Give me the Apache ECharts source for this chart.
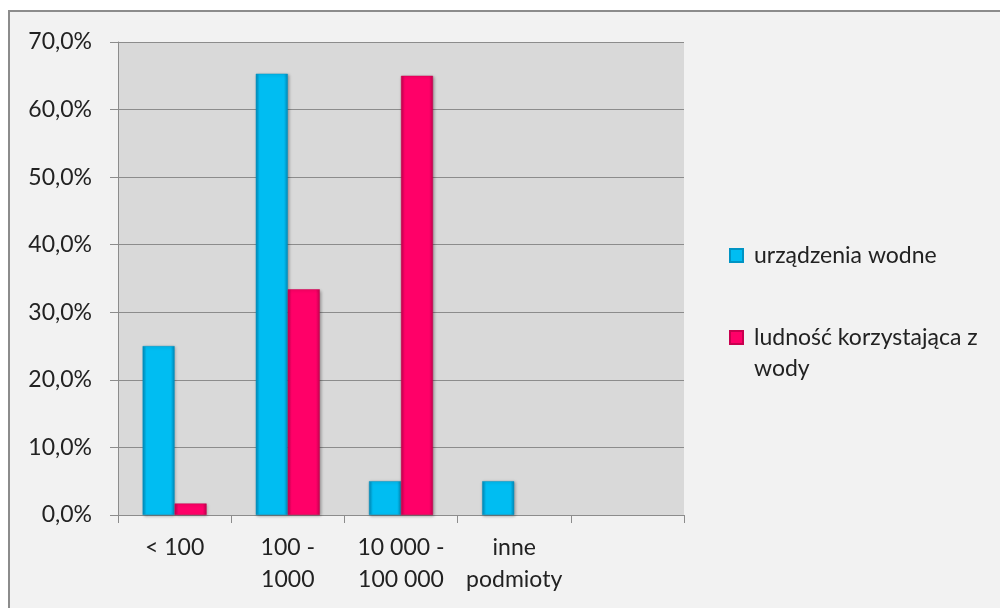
<!DOCTYPE html>
<html>
<head>
<meta charset="utf-8">
<script src="https://cdn.jsdelivr.net/npm/echarts@6/dist/echarts.min.js"></script>
<style>
  html, body { margin: 0; padding: 0; background: #fff; overflow: hidden; }
  #frame { position: absolute; left: 8px; top: 10px; width: 1000px; height: 610px;
           border-top: 2px solid #8c8c8c; border-left: 2px solid #8c8c8c; background: #f2f2f2; }
  #main { position: absolute; left: -10px; top: -12px; width: 1000px; height: 608px; }
</style>
</head>
<body>
<div id="frame"><div id="main"></div></div>
<script>
// dane
const categories = ['< 100', '100 -\n1000', '10 000 -\n100 000', 'inne\npodmioty', '']
const urzadzenia = [25.0, 65.3, 5.0, 5.0, null]
const ludnosc = [1.7, 33.4, 65.0, null, null]
const seriesNames = ['urządzenia wodne', 'ludność korzystająca z wody']

const chart = echarts.init(document.getElementById('main'))

function barColor(mid, edge) {
  return new echarts.graphic.LinearGradient(0, 0, 1, 0, [
    { offset: 0, color: edge },
    { offset: 0.12, color: mid },
    { offset: 0.88, color: mid },
    { offset: 1, color: edge }
  ])
}

const font = 'Lato'
const fsize = 23

let option = {
  backgroundColor: 'transparent',
  animation: false,
  grid: { left: 118, top: 42, width: 566, height: 473, show: true,
          backgroundColor: '#d9d9d9', borderWidth: 0 },
  legend: {
    orient: 'vertical',
    left: 724,
    top: 235,
    itemGap: 20,
    itemWidth: 13,
    itemHeight: 13,
    icon: 'rect',
    textStyle: { fontFamily: font, fontSize: fsize, color: '#222', lineHeight: 31,
                 padding: [0, 0, 0, 6] },
    // pusta linia na górze, żeby ikonka stała przy pierwszej linii tekstu
    formatter: name => name === seriesNames[1] ? '\nludność korzystająca z\nwody' : name
  },
  xAxis: {
    type: 'category',
    data: categories,
    axisLine: { lineStyle: { color: '#8c8c8c', width: 1 } },
    axisTick: { show: true, length: 8, lineStyle: { color: '#8c8c8c' } },
    axisLabel: { fontFamily: font, fontSize: fsize, color: '#222', lineHeight: 32, margin: 17,
                 interval: 0 }
  },
  yAxis: {
    type: 'value',
    min: 0,
    max: 70,
    interval: 10,
    axisLine: { show: true, lineStyle: { color: '#8c8c8c' } },
    axisTick: { show: true, length: 8, lineStyle: { color: '#8c8c8c' } },
    splitLine: { lineStyle: { color: '#8c8c8c', width: 1 } },
    axisLabel: { fontFamily: font, fontSize: fsize, color: '#222', margin: 26,
                 formatter: v => v.toFixed(1).replace('.', ',') + '%' }
  },
  series: [
    {
      name: seriesNames[0],
      type: 'bar',
      data: urzadzenia,
      barWidth: 32,
      barGap: '0%',
      itemStyle: { color: barColor('#00bdf2', '#0089b8'), borderColor: '#0094c4', borderWidth: 0.5,
                   shadowColor: 'rgba(0,0,0,0.3)', shadowBlur: 3, shadowOffsetX: 1, shadowOffsetY: 1 }
    },
    {
      name: seriesNames[1],
      type: 'bar',
      data: ludnosc,
      barWidth: 32,
      barGap: '0%',
      itemStyle: { color: barColor('#ff0068', '#c4004f'), borderColor: '#c8004f', borderWidth: 0.5,
                   shadowColor: 'rgba(0,0,0,0.3)', shadowBlur: 3, shadowOffsetX: 1, shadowOffsetY: 1 }
    }
  ]
}

chart.setOption(option)
</script>
</body>
</html>
